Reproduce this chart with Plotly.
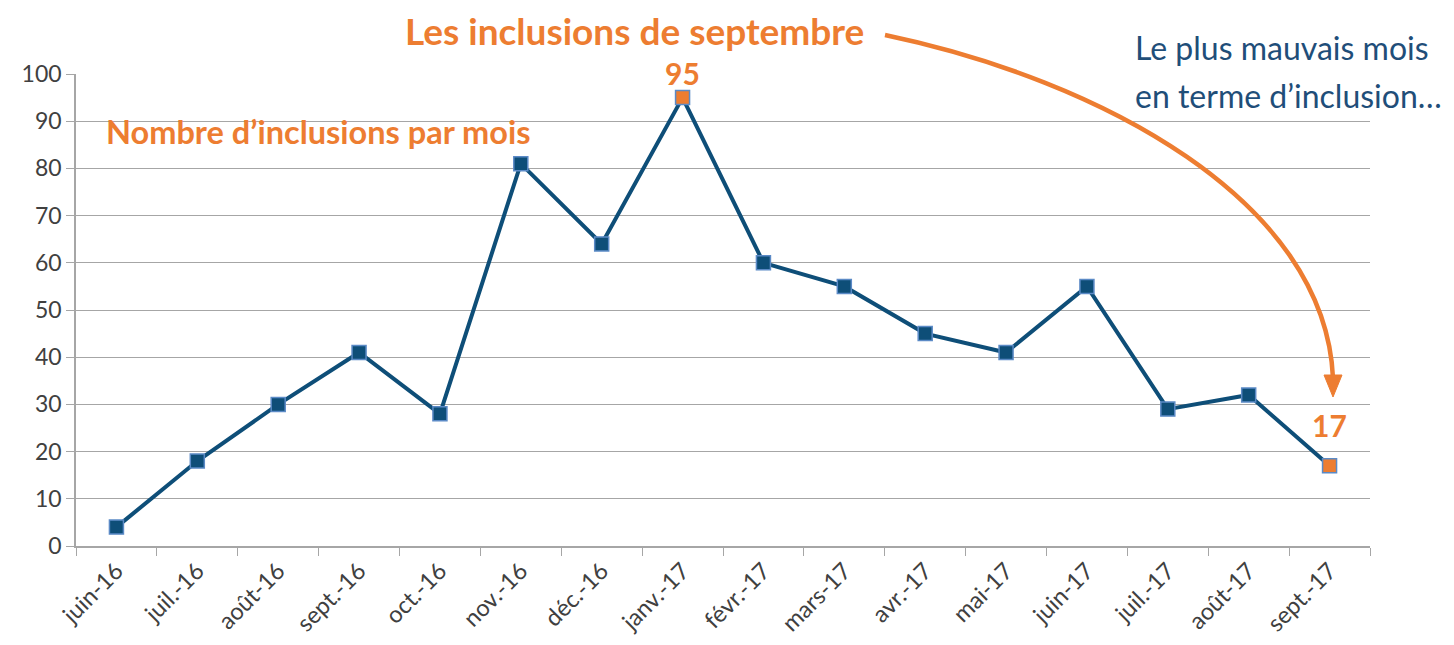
import plotly.graph_objects as go

months = ["juin-16", "juil.-16", "août-16", "sept.-16", "oct.-16", "nov.-16", "déc.-16",
          "janv.-17", "févr.-17", "mars-17", "avr.-17", "mai-17", "juin-17", "juil.-17",
          "août-17", "sept.-17"]
inclusions = [4, 18, 30, 41, 28, 81, 64, 95, 60, 55, 45, 41, 55, 29, 32, 17]
highlight = ["janv.-17", "sept.-17"]
label_shift = [25, 41]

ORANGE = "#ED7D31"
BLUE = "#0E4E78"
DARKBLUE = "#1F4E79"

marker_colors = [ORANGE if m in highlight else BLUE for m in months]

fig = go.Figure()
fig.add_trace(go.Scatter(
    x=months, y=inclusions, mode="lines+markers",
    line=dict(color=BLUE, width=4),
    marker=dict(symbol="square", size=14, color=marker_colors,
                line=dict(color="#5B8AC6", width=1.5)),
    hoverinfo="x+y", showlegend=False,
))

for m, s in zip(highlight, label_shift):
    v = inclusions[months.index(m)]
    fig.add_annotation(x=m, y=v, text=f"<b>{v}</b>", showarrow=False,
                       yshift=s, font=dict(family="Lato", size=30, color=ORANGE))

# page has an 8px body margin
OFF = 8
W, H = 1454, 645
PL, PT, PR, PB = 76, 74, 1370, 546   # plot area in page pixels
L, T = PL - OFF, PT - OFF
R, B = W + OFF - PR, H + OFF - PB
PW, PH = PR - PL, PB - PT

def px(x):
    return (x - PL) / PW

def py(y):
    return (PB - y) / PH

# curved arrow
p0 = (885, 35); c1 = (1100, 80); c2 = (1325, 200); p3 = (1333, 378)
path = "M {},{} C {},{} {},{} {},{}".format(
    px(p0[0]), py(p0[1]), px(c1[0]), py(c1[1]), px(c2[0]), py(c2[1]), px(p3[0]), py(p3[1]))
fig.add_shape(type="path", path=path, xref="paper", yref="paper",
              line=dict(color=ORANGE, width=4.5))
tri = "M {},{} L {},{} L {},{} Z".format(
    px(1324), py(375), px(1342), py(375), px(1333), py(397))
fig.add_shape(type="path", path=tri, xref="paper", yref="paper",
              line=dict(color=ORANGE, width=1), fillcolor=ORANGE)

fig.add_annotation(xref="paper", yref="paper", x=px(634), y=py(31),
                   text="<b>Les inclusions de septembre</b>", showarrow=False,
                   xanchor="center", yanchor="middle",
                   font=dict(family="Lato", size=37, color=ORANGE))
fig.add_annotation(xref="paper", yref="paper", x=px(104), y=py(131),
                   text="<b>Nombre d’inclusions par mois</b>", showarrow=False,
                   xanchor="left", yanchor="middle",
                   font=dict(family="Lato", size=32.5, color=ORANGE))
fig.add_annotation(xref="paper", yref="paper", x=px(1133), y=py(48),
                   text="Le plus mauvais mois", showarrow=False,
                   xanchor="left", yanchor="middle",
                   font=dict(family="Lato", size=32, color=DARKBLUE))
fig.add_annotation(xref="paper", yref="paper", x=px(1133), y=py(95),
                   text="en terme d’inclusion…", showarrow=False,
                   xanchor="left", yanchor="middle",
                   font=dict(family="Lato", size=32, color=DARKBLUE))

fig.update_layout(
    width=W, height=H,
    margin=dict(l=L, r=R, t=T, b=B, autoexpand=False),
    paper_bgcolor="white", plot_bgcolor="white",
    font=dict(family="Lato", color="#404040"),
    xaxis=dict(type="category", showgrid=False, showline=True, linecolor="#A6A6A6",
               linewidth=1.5, ticks="outside", tickson="boundaries", ticklen=8,
               tickcolor="#A6A6A6", tickangle=-45, tickfont=dict(size=23.5, color="#404040"),
               range=[-0.5, 15.5]),
    yaxis=dict(range=[0, 100], dtick=10, showgrid=True, gridcolor="#A6A6A6", gridwidth=1,
               showline=True, linecolor="#A6A6A6", linewidth=1.5, ticks="outside",
               ticklen=8, tickcolor="#A6A6A6", tickfont=dict(size=23, color="#404040"),
               zeroline=False),
)

fig.write_html("out.html")
